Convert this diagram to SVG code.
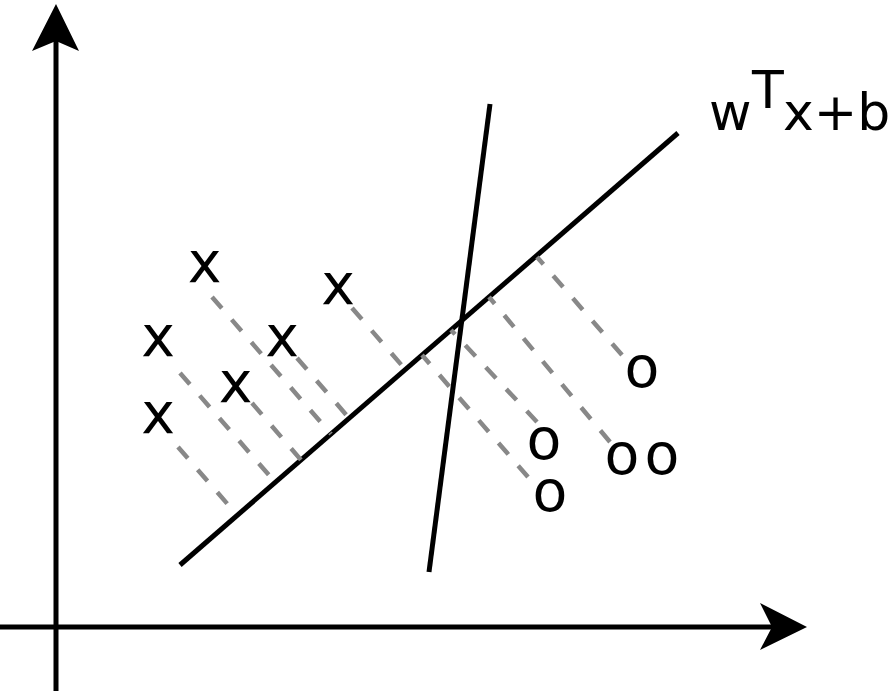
<svg xmlns="http://www.w3.org/2000/svg" width="896" height="691" viewBox="0 0 896 691">
<style>
.axis{stroke:#000;stroke-width:5;fill:none}
.line{stroke:#000;stroke-width:5;fill:none}
.proj{stroke:#888;stroke-width:4.5;stroke-dasharray:15 15;fill:none}
.mark{font-family:"DejaVu Sans","Liberation Sans",sans-serif;font-size:57px;fill:#000;text-anchor:middle}
.lbl{font-family:"DejaVu Sans","Liberation Sans",sans-serif;font-size:52px;fill:#000}
</style>
<rect width="896" height="691" fill="#fff"/>
<g id="axes">
<line class="axis" x1="56" y1="691" x2="56" y2="40"/>
<polygon points="56,4 79,51 56,41 32,51" fill="#000"/>
<line class="axis" x1="0" y1="627" x2="772" y2="627"/>
<polygon points="807,627 760,650 772,627 760,603" fill="#000"/>
</g>
<g id="connectors">
<line class="line" x1="180" y1="565" x2="678" y2="133"/>
<line class="line" x1="490" y1="104" x2="429" y2="572"/>
<line class="proj" x1="212" y1="297" x2="331" y2="434"/>
<line class="proj" x1="297" y1="358" x2="349" y2="418"/>
<line class="proj" x1="180" y1="373" x2="275" y2="482"/>
<line class="proj" x1="252" y1="403" x2="301" y2="460"/>
<line class="proj" x1="178" y1="447" x2="237" y2="515"/>
<line class="proj" x1="352" y1="308" x2="405" y2="369"/>
<line class="proj" x1="622" y1="355" x2="537" y2="257"/>
<line class="proj" x1="610" y1="442" x2="489" y2="297"/>
<line class="proj" x1="537" y1="422" x2="451" y2="330"/>
<line class="proj" x1="528" y1="477" x2="422" y2="355"/>
</g>
<g id="x-points">
<text class="mark" x="204.5" y="282">x</text>
<text class="mark" x="158" y="356">x</text>
<text class="mark" x="158" y="433">x</text>
<text class="mark" x="235.5" y="402">x</text>
<text class="mark" x="282" y="356">x</text>
<text class="mark" x="338" y="304">x</text>
</g>
<g id="o-points">
<text class="mark" x="642" y="387">o</text>
<text class="mark" x="544" y="459">o</text>
<text class="mark" x="550" y="511">o</text>
<text class="mark" x="622" y="474">o</text>
<text class="mark" x="662" y="474">o</text>
</g>
<g id="label">
<text class="lbl"><tspan x="709" y="130">w</tspan><tspan x="752" y="108">T</tspan><tspan x="783" y="130">x+b</tspan></text>
</g>
</svg>
